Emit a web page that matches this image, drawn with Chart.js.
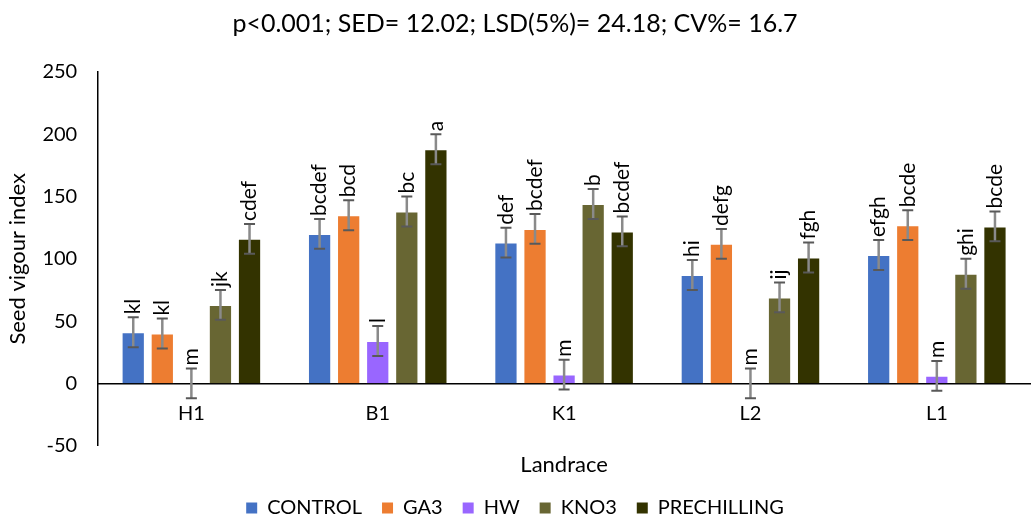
<!DOCTYPE html>
<html>
<head>
<meta charset="utf-8">
<script src="https://cdn.jsdelivr.net/npm/chart.js@4.4.1/dist/chart.umd.min.js"></script>
<style>
  html, body { margin: 0; padding: 0; background: #fff; }
  #wrap { width: 1033px; height: 517px; }
</style>
</head>
<body>
<div id="wrap"><canvas id="grafico" width="1033" height="517"></canvas></div>
<script>
const landraces = ['H1', 'B1', 'K1', 'L2', 'L1'];
const treatments = ['CONTROL', 'GA3', 'HW', 'KNO3', 'PRECHILLING'];
const cores = ['#4472C4', '#ED7D31', '#9966FF', '#686633', '#333300'];

// seed vigour index per treatment
const control = [41, 120, 113, 87, 103];
const ga3 = [40, 135, 124, 112, 127];
const hw = [0, 34, 7, 0, 6];
const kno3 = [63, 138, 144, 69, 88];
const prechilling = [116, 188, 122, 101, 126];

// error bar half-widths
const errControl = [12, 12, 12, 12, 12];
const errGa3 = [12, 12, 12, 12, 12];
const errHw = [12, 12, 12, 12, 12];
const errKno3 = [12, 12, 12, 12, 12];
const errPrechilling = [12, 12, 12, 12, 12];

// mean separation letters
const letControl = ['kl', 'bcdef', 'def', 'hi', 'efgh'];
const letGa3 = ['kl', 'bcd', 'bcdef', 'defg', 'bcde'];
const letHw = ['m', 'l', 'm', 'm', 'm'];
const letKno3 = ['jk', 'bc', 'b', 'ij', 'ghi'];
const letPrechilling = ['cdef', 'a', 'bcdef', 'fgh', 'bcde'];

const yTicks = [-50, 0, 50, 100, 150, 200, 250];

const titulo = 'p<0.001; SED= 12.02; LSD(5%)= 24.18; CV%= 16.7';
const FONTE = 'Lato, "Open Sans", sans-serif';

const series = [control, ga3, hw, kno3, prechilling];
const erros = [errControl, errGa3, errHw, errKno3, errPrechilling];
const letras = [letControl, letGa3, letHw, letKno3, letPrechilling];

// ============================
//   ERROR BARS + LETTERS
// ============================
const barrasErro = {
  id: 'barrasErro',
  afterDatasetsDraw(chart) {
    const { ctx, scales: { y } } = chart;
    ctx.save();
    chart.data.datasets.forEach((ds, i) => {
      const meta = chart.getDatasetMeta(i);
      meta.data.forEach((bar, j) => {
        const v = ds.data[j];
        const e = erros[i][j];
        const x = bar.x;
        const yTop = y.getPixelForValue(v + e);
        const yBot = y.getPixelForValue(v - e);
        ctx.strokeStyle = '#8a8a8a';
        ctx.lineWidth = 2.5;
        ctx.beginPath();
        ctx.moveTo(x, yTop);
        ctx.lineTo(x, yBot);
        ctx.stroke();
        ctx.strokeStyle = '#595959';
        ctx.lineWidth = 2;
        ctx.beginPath();
        ctx.moveTo(x - 5.5, yTop);
        ctx.lineTo(x + 5.5, yTop);
        ctx.moveTo(x - 5.5, yBot);
        ctx.lineTo(x + 5.5, yBot);
        ctx.stroke();

        ctx.save();
        ctx.translate(x, yTop - 3);
        ctx.rotate(-Math.PI / 2);
        ctx.fillStyle = '#000';
        ctx.font = '21px ' + FONTE;
        ctx.textAlign = 'left';
        ctx.textBaseline = 'middle';
        ctx.fillText(letras[i][j], 0, 0);
        ctx.restore();
      });
    });
    ctx.restore();
  }
};

const ctx = document.getElementById('grafico').getContext('2d');

new Chart(ctx, {
  type: 'bar',
  data: {
    labels: landraces,
    datasets: treatments.map((t, i) => ({
      label: t,
      data: series[i],
      backgroundColor: cores[i],
      borderColor: 'rgba(255,255,255,0.55)',
      borderWidth: 1,
      categoryPercentage: 0.78,
      barPercentage: 0.8
    }))
  },
  options: {
    responsive: false,
    animation: false,
    layout: { padding: { left: 0, right: 3, top: 0, bottom: -11 } },
    plugins: {
      legend: {
        position: 'bottom',
        labels: {
          color: '#000',
          font: { family: FONTE, size: 20 },
          boxWidth: 11,
          boxHeight: 11,
          padding: 20,
          generateLabels(chart) {
            return chart.data.datasets.map((ds, i) => ({
              text: ds.label,
              fillStyle: ds.backgroundColor,
              strokeStyle: ds.backgroundColor,
              lineWidth: 0,
              datasetIndex: i
            }));
          }
        }
      },
      title: {
        display: true,
        text: titulo,
        color: '#000',
        font: { family: FONTE, size: 25, weight: 'normal', lineHeight: 1.2 },
        padding: { top: 9, bottom: 33 }
      },
      subtitle: {
        display: true,
        text: 'Landrace',
        position: 'bottom',
        weight: 500,
        fullSize: false,
        color: '#000',
        font: { family: FONTE, size: 22, weight: 'normal', lineHeight: 1.2 },
        padding: { top: 6, bottom: 0 }
      },
      tooltip: { enabled: false }
    },
    scales: {
      x: {
        position: { y: 0 },
        grid: { display: false, drawTicks: false },
        border: { display: true, color: '#000', width: 1.5 },
        ticks: { color: '#000', font: { family: FONTE, size: 20 }, padding: 18 }
      },
      y: {
        min: -50,
        max: 250,
        afterBuildTicks(axis) { axis.ticks = yTicks.map(v => ({ value: v })); },
        grid: { display: false, drawTicks: false },
        border: { display: true, color: '#000', width: 1.5 },
        ticks: { color: '#000', font: { family: FONTE, size: 20 }, padding: 21 },
        title: {
          display: true,
          text: 'Seed vigour index',
          color: '#000',
          font: { family: FONTE, size: 22, lineHeight: 1.2 },
          padding: { top: 5, bottom: -10 }
        }
      }
    }
  },
  plugins: [barrasErro]
});
</script>
</body>
</html>
